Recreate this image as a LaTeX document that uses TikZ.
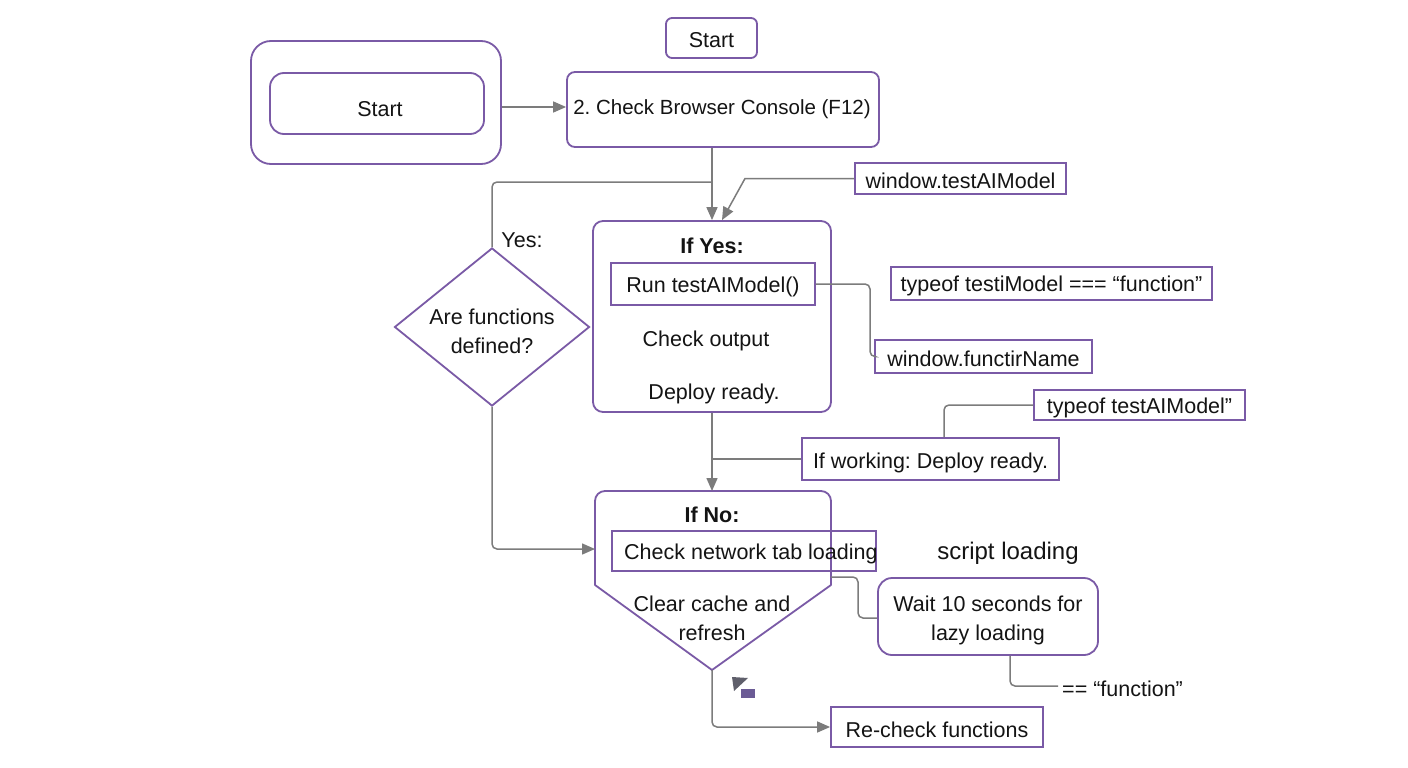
\documentclass[tikz,border=0pt]{standalone}
\usepackage{fontspec}
\setmainfont{Liberation Sans}
\usetikzlibrary{arrows.meta,shapes.geometric}
\definecolor{pborder}{HTML}{7A5AA6}
\definecolor{conn}{HTML}{7C7C7C}
\definecolor{ink}{HTML}{141414}
\definecolor{glyphgray}{HTML}{5F5F6B}
\definecolor{glyphpurple}{HTML}{6B5B95}
\tikzset{
  box/.style={draw=pborder, line width=1.8pt, inner sep=0pt, text=ink},
  txt/.style={inner sep=0pt, text=ink, yshift=-2.5pt},
  conn/.style={draw=conn, line width=1.5pt, rounded corners=5pt},
  tip/.style={-{Triangle[length=13pt,width=11pt]}},
  basefont/.style={font=\fontsize{21.5}{29}\selectfont},
}
\frenchspacing
\begin{document}
\frenchspacing
\begin{tikzpicture}[x=1pt,y=-1pt,basefont]
\useasboundingbox (0,0) rectangle (1408,768);
\fill[white] (0,0) rectangle (1408,768);

% Start group
\node[box, rounded corners=20pt, minimum width=250pt, minimum height=123pt] (outer) at (376,102.5) {};
\node[box, rounded corners=14pt, minimum width=214pt, minimum height=61pt] (instart) at (377,103.5) {};
\node[txt] (instartt) at (380,107) {Start};
\node[box, rounded corners=6pt, minimum width=91pt, minimum height=40pt] (topstart) at (711.5,38) {};
\node[txt] (topstartt) at (711.5,38) {Start};

% Console
\node[box, rounded corners=8pt, minimum width=312pt, minimum height=75pt] (console) at (723,109.5) {};
\node[txt, font=\fontsize{20.5}{24}\selectfont] (consolet) at (722,106.5) {2. Check Browser Console (F12)};

\node[box, minimum width=211pt, minimum height=31pt] (wintest) at (960.5,178.5) {};
\node[txt] (wintestt) at (960.5,178.5) {window.testAIModel};

% Diamond
\node[box, diamond, aspect=1.234, minimum width=195pt, minimum height=158pt] (dia) at (492,327) {};
\node[txt, align=center] (diat) at (492,329) {Are functions\\defined?};
\node[txt] (yes) at (522,238) {Yes:};

% If Yes block
\node[box, rounded corners=10pt, minimum width=238pt, minimum height=191pt] (ifyes) at (712,316.5) {};
\node[txt, font=\fontsize{21.5}{25}\bfseries] (ifyest) at (712,243) {If Yes:};
\node[box, minimum width=204pt, minimum height=42pt] (run) at (713,284) {};
\node[txt] (runt) at (713,284) {Run testAIModel()};
\node[txt] (chk) at (706,338) {Check output};
\node[txt] (dep) at (714,391) {Deploy ready.};

\node[box, minimum width=321pt, minimum height=33pt] (typeof1) at (1051.5,283.5) {};
\node[txt] (typeof1t) at (1051.5,283.5) {typeof testiModel === “function”};
\node[box, minimum width=217pt, minimum height=33pt] (winfunc) at (983.5,356.5) {};
\node[txt] (winfunct) at (983.5,356.5) {window.functirName};
\node[box, minimum width=211pt, minimum height=30pt] (typeof2) at (1139.5,405) {};
\node[txt] (typeof2t) at (1139.5,405) {typeof testAIModel”};
\node[box, minimum width=257pt, minimum height=42pt] (working) at (930.5,459) {};
\node[txt] (workingt) at (930.5,460) {If working: Deploy ready.};

% If No block
\draw[draw=pborder, line width=1.8pt, rounded corners=10pt] (595,585) -- (595,491) -- (831,491) -- (831,585);
\draw[draw=pborder, line width=1.8pt, line cap=round, line join=miter] (595,585) -- (712,670) -- (831,585);
\coordinate (ifnoN) at (712,491);
\coordinate (ifnoW) at (595,549);
\coordinate (ifnoE) at (831,577);
\coordinate (ifnoS) at (712,670);
\node[txt, font=\fontsize{21.5}{25}\bfseries] (ifnot) at (712,512) {If No:};
\node[box, minimum width=264pt, minimum height=40pt] (net) at (744,551) {};
\node[txt, anchor=west] (nett) at (624,551) {Check network tab loading};
\node[txt, align=center] (clear) at (712,616) {Clear cache and\\refresh};

\node[txt, font=\fontsize{24}{28}\selectfont] (script) at (1008,551) {script loading};
\node[box, rounded corners=14pt, minimum width=220pt, minimum height=77pt] (wait) at (988,616.5) {};
\node[txt, align=center] (waitt) at (988,618) {Wait 10 seconds for\\lazy loading};
\node[txt, anchor=west] (funcstr) at (1062,686) {== “function”};
\node[box, minimum width=212pt, minimum height=40pt] (recheck) at (937,727) {};
\node[txt] (rechekt) at (937,727) {Re-check functions};

% small glyph
\fill[glyphgray] (732,677) -- (748,678) -- (734,691) -- cycle;
\fill[glyphpurple] (741,689) rectangle (755,698);

% Connectors
\draw[conn, tip] (outer.east |- 0,107) -- (console.west |- 0,107);
\draw[conn, tip] (console.south -| ifyes.north) -- (ifyes.north);
\draw[conn] (dia.north) |- (712,182);
\draw[conn, tip, rounded corners=0pt] (wintest.west) -- (745,178.5) -- ([xshift=10pt]ifyes.north);
\draw[conn] (run.east) -| (870,356.5) -- (winfunc.west);
\draw[conn] (typeof2.west) -| ([xshift=13.5pt]working.north);
\draw[conn] (working.west) -- (712,459);
\draw[conn, tip] (ifyes.south) -- (ifnoN);
\draw[conn, tip] (dia.south) |- (ifnoW);
\draw[conn] (ifnoE) -| (858,618) -- (wait.west |- 0,618);
\draw[conn] ([xshift=22pt]wait.south) |- ([xshift=-4pt,yshift=2.5pt]funcstr.west);
\draw[conn, tip] (ifnoS) |- (recheck.west);
\end{tikzpicture}
\end{document}
